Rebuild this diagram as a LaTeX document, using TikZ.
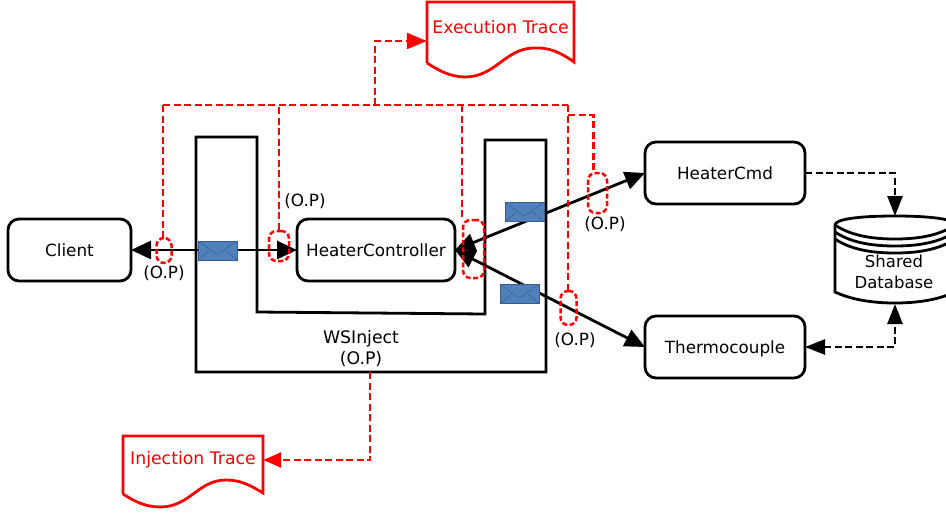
\documentclass[tikz,border=0pt]{standalone}
\usepackage{fontspec}
\setmainfont{DejaVu Sans}
\usepackage{xcolor}
\usepackage{tikz}
\usetikzlibrary{calc}
\usetikzlibrary{arrows.meta}
\definecolor{trace-red}{RGB}{255, 0, 0}
\definecolor{msg-blue}{RGB}{79, 129, 189}
\definecolor{msg-blue1}{RGB}{56, 93, 138}
\tikzset{
  service/.style={draw, line width=2.8pt, outer sep=0pt, rounded corners=11pt, minimum height=62pt, text depth=0pt, font=\fontsize{16.8}{20}\selectfont},
  optag/.style={font=\fontsize{16.8}{20}\selectfont, inner sep=0pt},
  opmark/.style={draw=trace-red, line width=2.5pt, dash pattern=on 5pt off 2.5pt, rounded corners=7.5pt, inner sep=0pt},
  tracewire/.style={draw=trace-red, line width=2.6pt, dash pattern=on 7pt off 3.5pt},
  tracedoc/.style={draw=trace-red, line width=2.8pt, line join=miter},
  tracetext/.style={text=trace-red, font=\fontsize{17.3}{20}\selectfont, inner sep=0pt},
  soapwire/.style={line width=2.8pt, {Triangle[length=20pt,width=18pt]}-{Triangle[length=20pt,width=18pt]}},
  dbwire/.style={line width=2.6pt, dash pattern=on 7pt off 3.5pt},
  envelope/.style={fill=msg-blue, draw=msg-blue1, line width=0.4pt, minimum width=39pt, minimum height=19pt, inner sep=0pt,
    path picture={
      \draw[msg-blue1, line width=0.5pt] (path picture bounding box.north west) -- ($(path picture bounding box.center)+(0,4)$) -- (path picture bounding box.north east);
      \draw[msg-blue1, line width=0.5pt] (path picture bounding box.south west) -- ($(path picture bounding box.center)+(-8,0)$);
      \draw[msg-blue1, line width=0.5pt] (path picture bounding box.south east) -- ($(path picture bounding box.center)+(8,0)$);
    }},
}

\begin{document}
\begin{tikzpicture}[x=1pt, y=-1pt]
  \useasboundingbox (0,0) rectangle (946,512);

  % the inject wrapper
  \draw[line width=2.8pt, line join=miter] (196,137) -- (257,137) -- (257,312) -- (485,314) -- (485,140) -- (546,140) -- (546,372) -- (196,372) -- cycle;
  \node[font=\fontsize{17.3}{21}\selectfont, align=center, inner sep=0pt] (wsinject) at (361,349) {WSInject\\(O.P)};
  \coordinate (wsout) at (370,372);

  % services
  \node[service, minimum width=123pt] (client) at (69.5,250) {Client};
  \node[service, minimum width=158pt] (controller) at (376,250) {HeaterController};
  \node[service, minimum width=160pt] (heatercmd) at (725,173) {HeaterCmd};
  \node[service, minimum width=160pt] (thermo) at (725,347) {Thermocouple};

  % database, runs off the right side
  \clip (0,0) rectangle (946,512);
  \draw[line width=2.8pt] (835,225) .. controls (835,219) and (860,216) .. (895,216) .. controls (930,216) and (955,219) .. (955,225) -- (955,292) .. controls (940,299) and (920,303) .. (895,303) .. controls (870,303) and (850,299) .. (835,292) -- cycle;
  \foreach \y in {225,232,239}
    \draw[line width=2.8pt] (835,\y) .. controls (850,\y+10) and (870,\y+14) .. (895,\y+14) .. controls (920,\y+14) and (940,\y+10) .. (955,\y);
  \node[minimum width=120pt, minimum height=88pt, inner sep=0pt, outer sep=0pt] (database) at (895,260) {};
  \node[font=\fontsize{16.5}{21}\selectfont, align=center, inner sep=0pt] (dblabel) at (894,272) {Shared\\Database};

  % soap calls
  \draw[soapwire] (client) -- (controller);
  \draw[soapwire] (controller.east) -- (heatercmd.west);
  \draw[soapwire] (controller.east) -- (thermo.west);

  \node[envelope] (msgclient) at (217.5,250.5) {};
  \node[envelope] (msgcmd) at (524.5,212) {};
  \node[envelope] (msgthermo) at (519.5,294) {};

  % database calls
  \draw[dbwire, -{Triangle[length=20pt,width=15pt]}] (heatercmd.east) -| (database.north);
  \draw[dbwire, {Triangle[length=20pt,width=15pt]}-{Triangle[length=20pt,width=15pt]}] (thermo.east) -| (database.south);

  % observation points
  \node[opmark, minimum width=15pt, minimum height=25pt] (opclient) at (164,250.5) {};
  \node[opmark, minimum width=20pt, minimum height=30pt] (opcontroller) at (279,246) {};
  \node[opmark, minimum width=21pt, minimum height=58pt] (opinner) at (473.5,249) {};
  \node[opmark, minimum width=19pt, minimum height=40pt] (opcmd) at (597.5,193) {};
  \node[opmark, minimum width=16pt, minimum height=34pt] (opthermo) at (568.5,308) {};

  \node[optag] (tagclient) at (164,273) {(O.P)};
  \node[optag] (tagcontroller) at (305,201) {(O.P)};
  \node[optag] (tagcmd) at (605,224) {(O.P)};
  \node[optag] (tagthermo) at (575,340) {(O.P)};

  % trace documents
  \node[tracetext, minimum width=147pt] (exectrace) at (500.5,27) {Execution Trace};
  \draw[tracedoc] (427,63) -- (427,2) -- (574,2) -- (574,62) .. controls (560,52) and (548,47) .. (533,48) .. controls (505,49) and (495,77) .. (465,77) .. controls (450,77) and (438,70) .. (427,63);
  \node[tracetext, minimum width=140pt] (injtrace) at (193,460) {Injection Trace};
  \draw[tracedoc] (123,494) -- (123,436) -- (263,436) -- (263,493) .. controls (250,485) and (240,480) .. (226,480) .. controls (198,480) and (190,507) .. (160,507) .. controls (145,507) and (134,501) .. (123,494);

  % trace bus
  \coordinate (busleft) at (163,105);
  \coordinate (busmid) at (375,105);
  \coordinate (businner) at (462,105);
  \coordinate (busright) at (568,105);
  \coordinate (buscmd) at (568,115);
  \draw[tracewire] (busleft) -- (busright);
  \draw[tracewire] (busleft) -- (busleft |- opclient.north);
  \draw[tracewire] (opcontroller.north) -- (opcontroller.north |- busleft);
  \draw[tracewire] (businner) -- (businner |- opinner.north);
  \draw[tracewire] (busright) -- (busright |- opthermo.north);
  \draw[tracewire] (buscmd) -| ($(opcmd.north)+(-4,0)$);
  \draw[tracewire, -{Triangle[length=20pt,width=16pt]}] (busmid) |- ($(exectrace.west)+(0,14)$);
  \draw[tracewire, -{Triangle[length=18pt,width=15pt]}] (wsout) |- (injtrace.east);
\end{tikzpicture}
\end{document}
